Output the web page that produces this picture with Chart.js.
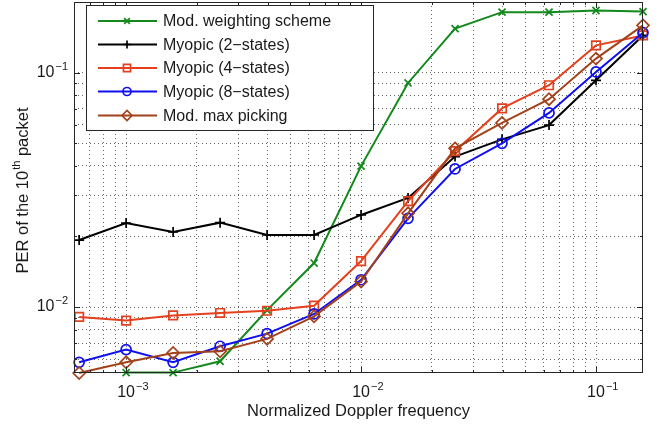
<!DOCTYPE html>
<html>
<head>
<meta charset="utf-8">
<script src="https://cdn.jsdelivr.net/npm/chart.js@4.4.1/dist/chart.umd.min.js"></script>
<style>
  html, body { margin: 0; padding: 0; background: #ffffff; }
  #wrap { width: 659px; height: 425px; position: relative; }
</style>
</head>
<body>
<div id="wrap"><canvas id="c" width="659" height="425"></canvas></div>
<script>
// ---------- data ----------
const dopplerFreq = [0.000631, 0.001, 0.001585, 0.002512, 0.003981, 0.00631, 0.01, 0.01585, 0.02512, 0.03981, 0.0631, 0.1, 0.1585];
const modWeighting = [null, 0.00525, 0.00525, 0.00587, 0.0097, 0.0154, 0.0399, 0.0903, 0.154, 0.181, 0.181, 0.184, 0.182];
const myopic2 = [0.0193, 0.0228, 0.0209, 0.0229, 0.0203, 0.0203, 0.0247, 0.0292, 0.0438, 0.0519, 0.0597, 0.0927, 0.144];
const myopic4 = [0.00907, 0.00875, 0.00921, 0.00943, 0.00964, 0.01013, 0.0157, 0.0283, 0.0462, 0.0703, 0.0883, 0.1306, 0.144];
const myopic8 = [0.00581, 0.00658, 0.00581, 0.0068, 0.0077, 0.00934, 0.01307, 0.0239, 0.0388, 0.0499, 0.0673, 0.1006, 0.148];
const maxPicking = [0.00523, 0.00581, 0.00637, 0.00647, 0.00731, 0.00912, 0.01285, 0.0251, 0.0475, 0.061, 0.077, 0.1147, 0.159];

const seriesNames = ['Mod. weighting scheme', 'Myopic (2\u2212states)', 'Myopic (4\u2212states)', 'Myopic (8\u2212states)', 'Mod. max picking'];

// ---------- axis ticks ----------
const xMajorTicks = [0.001, 0.01, 0.1];
const xTickExps = ['\u22123', '\u22122', '\u22121'];
const xMinorTicks = [0.0007, 0.0008, 0.0009, 0.002, 0.003, 0.004, 0.005, 0.006, 0.007, 0.008, 0.009,
                     0.02, 0.03, 0.04, 0.05, 0.06, 0.07, 0.08, 0.09];
const yMajorTicks = [0.01, 0.1];
const yTickExps = ['\u22122', '\u22121'];
const yMinorTicks = [0.006, 0.007, 0.008, 0.009, 0.02, 0.03, 0.04, 0.05, 0.06, 0.07, 0.08, 0.09, 0.2];

const xTitle = 'Normalized Doppler frequency';
const yTitleParts = ['PER of the 10', 'th', ' packet'];

const xMin = 0.000631, xMax = 0.1585, yMin = 0.00523, yMax = 0.2;

const FONT = '"Liberation Sans", Arial, Helvetica, sans-serif';
const colors = ['#13891b', '#000000', '#e4401e', '#1010ee', '#a3421a'];
const styles = ['crossRot', 'cross', 'rect', 'circle', 'rectRot'];
const radii = [5, 5, 6, 5, 6];
const seriesData = [modWeighting, myopic2, myopic4, myopic8, maxPicking];

const datasets = seriesData.map((vals, k) => ({
  label: seriesNames[k],
  data: dopplerFreq.map((f, i) => ({ x: f, y: vals[i] })),
  borderColor: colors[k],
  backgroundColor: 'rgba(0,0,0,0)',
  pointBorderColor: colors[k],
  pointBackgroundColor: 'rgba(0,0,0,0)',
  pointStyle: styles[k],
  pointRadius: radii[k],
  pointBorderWidth: 1.7,
  borderWidth: 2,
  tension: 0,
  spanGaps: false,
  clip: false,
  order: 5 - k
}));

function drawPow(ctx, x, y, exp, mode) {
  ctx.save();
  ctx.fillStyle = '#1a1a1a';
  ctx.textBaseline = 'middle';
  ctx.font = '16px ' + FONT;
  const wb = ctx.measureText('10').width;
  ctx.font = '11px ' + FONT;
  const ws = ctx.measureText(exp).width;
  let bx;
  if (mode === 'x') { bx = x - wb / 2; } else { bx = x - ws - wb - 1; }
  ctx.font = '16px ' + FONT;
  ctx.textAlign = 'left';
  ctx.fillText('10', bx, y);
  ctx.font = '11px ' + FONT;
  ctx.fillText(exp, bx + wb + 1, y - 6);
  ctx.restore();
}

const decor = {
  id: 'decor',
  afterDraw(chart) {
    const { ctx, chartArea: a, scales } = chart;
    const xs = scales.x, ys = scales.y;
    ctx.save();
    // box
    ctx.strokeStyle = '#262626';
    ctx.lineWidth = 1;
    ctx.strokeRect(Math.round(a.left) + 0.5, Math.round(a.top) + 0.5, Math.round(a.right - a.left) - 1, Math.round(a.bottom - a.top) - 1);
    // inward tick marks on all sides
    ctx.beginPath();
    const xt = xMajorTicks.map(v => [v, 6]).concat(xMinorTicks.map(v => [v, 3]));
    xt.forEach(([v, len]) => {
      const px = Math.round(xs.getPixelForValue(v)) + 0.5;
      ctx.moveTo(px, a.bottom); ctx.lineTo(px, a.bottom - len);
      ctx.moveTo(px, a.top); ctx.lineTo(px, a.top + len);
    });
    const yt = yMajorTicks.map(v => [v, 6]).concat(yMinorTicks.map(v => [v, 3]));
    yt.forEach(([v, len]) => {
      const py = Math.round(ys.getPixelForValue(v)) + 0.5;
      ctx.moveTo(a.left, py); ctx.lineTo(a.left + len, py);
      ctx.moveTo(a.right, py); ctx.lineTo(a.right - len, py);
    });
    ctx.stroke();
    ctx.restore();

    // tick labels
    xMajorTicks.forEach((v, i) => drawPow(ctx, xs.getPixelForValue(v), a.bottom + 20, xTickExps[i], 'x'));
    yMajorTicks.forEach((v, i) => drawPow(ctx, a.left - 6, ys.getPixelForValue(v), yTickExps[i], 'y'));

    // x title
    ctx.save();
    ctx.fillStyle = '#1a1a1a';
    ctx.font = '16.5px ' + FONT;
    ctx.textAlign = 'center';
    ctx.textBaseline = 'middle';
    ctx.fillText(xTitle, (a.left + a.right) / 2, 411);
    ctx.restore();

    // y title (rotated, with superscript)
    ctx.save();
    ctx.fillStyle = '#1a1a1a';
    ctx.translate(23, (a.top + a.bottom) / 2 + 3);
    ctx.rotate(-Math.PI / 2);
    ctx.textBaseline = 'middle';
    ctx.textAlign = 'left';
    ctx.font = '16.5px ' + FONT;
    const w0 = ctx.measureText(yTitleParts[0]).width;
    const w2 = ctx.measureText(yTitleParts[2]).width;
    ctx.font = '11px ' + FONT;
    const w1 = ctx.measureText(yTitleParts[1]).width;
    const total = w0 + w1 + w2 + 1;
    let sx = -total / 2;
    ctx.font = '16.5px ' + FONT;
    ctx.fillText(yTitleParts[0], sx, 0);
    ctx.font = '11px ' + FONT;
    ctx.fillText(yTitleParts[1], sx + w0 + 1, -6);
    ctx.font = '16.5px ' + FONT;
    ctx.fillText(yTitleParts[2], sx + w0 + w1 + 1, 0);
    ctx.restore();

    // legend
    ctx.save();
    const lx = 86, ly = 5, lw = 287, lh = 125;
    ctx.fillStyle = '#ffffff';
    ctx.fillRect(lx, ly, lw, lh);
    ctx.strokeStyle = '#262626';
    ctx.lineWidth = 1;
    ctx.strokeRect(lx + 0.5, ly + 0.5, lw, lh);
    const rowY = [21, 44.5, 68, 91.5, 115.5];
    seriesNames.forEach((name, k) => {
      const yy = rowY[k];
      ctx.strokeStyle = colors[k];
      ctx.lineWidth = 2;
      ctx.beginPath();
      ctx.moveTo(98, yy); ctx.lineTo(157, yy);
      ctx.stroke();
      ctx.lineWidth = 1.7;
      ctx.fillStyle = 'rgba(0,0,0,0)';
      Chart.helpers.drawPoint(ctx, { pointStyle: styles[k], radius: radii[k] - 1, rotation: 0, borderWidth: 1.7 }, 127, yy);
      ctx.fillStyle = '#1a1a1a';
      ctx.font = '16px ' + FONT;
      ctx.textAlign = 'left';
      ctx.textBaseline = 'middle';
      ctx.fillText(name, 163, yy + 1);
    });
    ctx.restore();
  }
};

new Chart(document.getElementById('c'), {
  type: 'line',
  data: { datasets },
  plugins: [decor],
  options: {
    responsive: false,
    animation: false,
    devicePixelRatio: 1,
    layout: { autoPadding: false, padding: { top: 2, right: 16, left: 0, bottom: 0 } },
    plugins: { legend: { display: false }, tooltip: { enabled: false } },
    scales: {
      x: {
        type: 'logarithmic',
        min: xMin, max: xMax,
        afterBuildTicks: (s) => { s.ticks = xMajorTicks.concat(xMinorTicks).sort((p, q) => p - q).map(v => ({ value: v })); },
        afterFit: (s) => { s.height = 52; },
        ticks: { display: false },
        grid: { color: 'rgba(0,0,0,0.6)', lineWidth: 1, drawTicks: false },
        border: { display: false, dash: [1, 3] }
      },
      y: {
        type: 'logarithmic',
        min: yMin, max: yMax,
        afterBuildTicks: (s) => { s.ticks = yMajorTicks.concat(yMinorTicks).sort((p, q) => p - q).map(v => ({ value: v })); },
        afterFit: (s) => { s.width = 74; },
        ticks: { display: false },
        grid: { color: 'rgba(0,0,0,0.6)', lineWidth: 1, drawTicks: false },
        border: { display: false, dash: [1, 3] }
      }
    }
  }
});
</script>
</body>
</html>
